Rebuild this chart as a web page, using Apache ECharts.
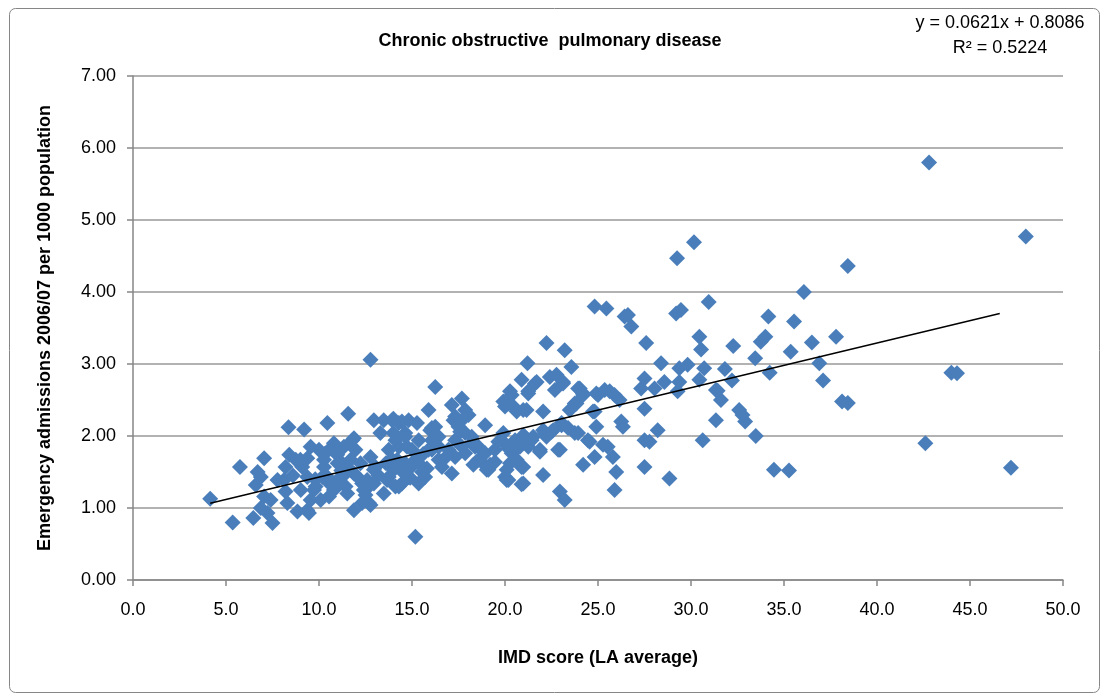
<!DOCTYPE html>
<html>
<head>
<meta charset="utf-8">
<script src="https://cdn.jsdelivr.net/npm/echarts@6/dist/echarts.min.js"></script>
<style>
html,body{margin:0;padding:0;background:#fff;}
#chart{width:1100px;height:693px;}
</style>
</head>
<body>
<div id="chart"></div>
<script>
// ---- Data ----
const chartTitle = "Chronic obstructive  pulmonary disease";
const xAxisTitle = "IMD score (LA average)";
const yAxisTitle = "Emergency admissions 2006/07 per 1000 population";
const equationLines = ["y = 0.0621x + 0.8086", "R\u00b2 = 0.5224"];
const trendSlope = 0.0621;
const trendIntercept = 0.8086;
const trendRange = [4.15, 46.6];

const imd = [
4.15,5.36,5.75,6.47,7.05,6.7,6.6,6.87,7.5,7.23,6.87,7.05,7.4,7.77,8.36,9.2,10.45,11.57,12.77,8.4,
8.2,8.12,8.2,8.3,8.84,9.37,8.75,9.1,9.37,9.55,10.0,9.55,9.82,10.27,10.18,10.54,10.71,10.98,11.25,11.43,
11.07,11.43,11.79,11.96,11.88,12.32,12.77,12.68,12.32,12.77,13.04,12.95,13.48,13.3,13.93,14.11,13.75,14.02,13.75,14.11,
13.48,14.46,14.82,15.27,14.64,14.73,15.18,15.54,15.36,15.89,16.25,15.98,16.07,15.18,
14.0,14.46,14.0,11.88,10.8,11.34,9.0,10.27,11.0,11.7,12.23,9.37,10.45,11.16,11.88,12.59,12.95,13.66,14.02,14.2,
9.02,9.73,10.09,10.8,11.52,12.41,12.68,12.95,9.46,
17.14,17.68,17.86,18.93,17.23,20.0,14.29,15.36,14.64,16.07,16.43,17.59,18.21,18.39,14.29,15.0,15.89,16.96,17.32,17.86,
18.93,19.46,19.82,14.64,15.36,16.43,16.61,18.3,18.57,19.2,19.46,14.82,15.71,17.14,19.02,14.29,20.0,
17.32,17.68,18.04,17.5,17.86,16.25,16.07,16.43,17.32,17.68,18.21,18.57,18.75,19.11,19.64,20.18,20.09,20.18,20.36,20.63,
20.89,20.98,20.54,21.07,21.43,21.25,20.18,20.36,20.63,20.89,21.21,21.25,21.61,21.16,22.05,21.88,22.05,22.14,22.5,22.41,
22.77,22.68,22.23,23.21,23.57,23.12,22.95,22.95,23.21,23.04,23.39,23.75,23.48,23.75,23.93,24.2,24.46,24.2,24.82,25.27,
24.91,24.82,25.0,25.36,25.63,25.89,26.16,24.82,25.45,25.8,25.98,25.89,26.25,26.34,26.43,26.61,26.79,27.59,27.5,27.32,
27.5,27.5,27.77,27.5,28.21,28.04,28.39,28.57,28.84,29.2,
21.7,23.12,20.27,21.25,24.02,24.2,24.91,19.91,20.45,20.98,23.84,24.73,19.91,20.98,22.05,23.04,23.93,20.45,21.52,22.23,
22.59,24.55,20.27,20.8,21.88,22.86,20.27,20.98,20.09,20.89,
29.46,30.95,30.45,30.54,29.37,29.82,30.71,29.37,29.28,30.45,30.63,25.52,31.34,29.25,30.16,
36.07,34.16,35.54,34.0,33.75,32.27,36.5,35.36,33.45,36.9,31.82,32.2,34.23,37.1,31.43,31.61,31.34,32.59,32.77,32.91,
33.48,34.46,35.27,
38.43,37.8,38.12,38.43,42.6,42.8,44.0,44.3,47.2,48.0,
8.6,9.8,10.6,11.2,12.0,12.5,13.2,13.9,14.5,15.0,15.6,16.8,10.3,11.6,13.6,14.9,15.8
];
const admissions = [
1.13,0.80,1.57,0.86,1.69,1.50,1.32,1.43,0.79,0.93,1.00,1.16,1.11,1.39,2.12,2.09,2.18,2.31,3.06,1.74,
1.57,1.39,1.23,1.07,0.95,0.97,1.67,1.57,1.69,1.85,1.81,1.11,1.30,1.57,1.43,1.16,1.85,1.74,1.62,1.48,
1.39,1.30,1.94,1.81,0.97,1.07,1.04,1.30,1.34,1.71,1.57,2.22,2.22,2.04,2.22,1.94,1.81,1.57,1.43,1.30,
1.20,1.34,2.22,2.18,2.04,1.85,1.67,1.50,1.34,2.36,2.68,2.08,1.81,0.60,
2.24,2.20,2.04,1.97,1.90,1.85,1.67,1.67,1.62,1.67,1.62,1.43,1.43,1.43,1.48,1.39,1.53,1.39,1.53,1.67,
1.25,1.25,1.11,1.25,1.20,1.25,1.07,1.34,0.93,
2.43,2.52,2.36,2.15,2.22,2.41,2.18,1.94,1.99,2.11,1.99,2.06,1.99,1.85,1.85,1.81,1.81,1.81,1.71,1.76,
1.76,1.81,1.94,1.62,1.62,1.67,1.57,1.60,1.67,1.60,1.64,1.43,1.43,1.48,1.53,1.30,1.43,
2.27,2.22,2.29,2.13,2.04,2.13,1.94,1.85,1.94,1.85,1.90,1.85,1.64,1.53,1.92,1.83,1.53,1.39,1.76,1.67,
1.57,1.34,1.94,1.99,1.94,1.85,2.45,2.57,2.34,2.78,3.01,2.59,2.73,2.36,2.34,1.81,1.46,2.04,2.06,2.82,
2.85,2.64,3.29,3.19,2.96,2.73,1.81,1.23,1.11,2.18,2.11,2.04,2.36,2.45,2.66,2.59,1.94,1.60,1.71,1.88,
2.13,2.34,2.57,2.64,2.62,2.57,2.50,3.80,3.77,1.71,1.50,1.25,2.20,2.13,3.66,3.68,3.52,3.29,2.80,2.66,
2.38,1.94,1.92,1.57,2.08,2.66,3.01,2.75,1.41,3.70,
2.75,2.75,2.62,2.62,2.66,2.57,2.59,2.48,2.41,2.36,2.45,2.34,2.04,2.01,2.08,2.15,2.04,1.90,1.99,1.99,
2.08,1.92,1.81,1.85,1.78,1.81,1.62,1.57,1.39,1.33,
3.75,3.86,3.38,3.20,2.94,2.99,2.94,2.75,2.62,2.78,1.94,1.85,2.64,4.47,4.69,
4.00,3.66,3.59,3.38,3.31,3.25,3.30,3.17,3.08,3.01,2.93,2.77,2.88,2.77,2.63,2.50,2.22,2.36,2.29,2.20,
2.00,1.53,1.52,
4.36,3.38,2.48,2.46,1.90,5.80,2.88,2.87,1.56,4.77,
1.45,1.40,1.33,1.52,1.45,1.18,1.45,1.68,1.50,1.58,1.75,1.70,1.75,1.55,1.62,1.42,1.55
];
const xTicks = { min: 0, max: 50, interval: 5 };
const yTicks = { min: 0, max: 7, interval: 1 };

// ---- Build ----
const points = imd.map((x, i) => [x, admissions[i]]);
const trend = trendRange.map(x => [x, trendSlope * x + trendIntercept]);

const FONT = "'Liberation Sans', Arial, sans-serif";
const chart = echarts.init(document.getElementById('chart'), null, { renderer: 'canvas' });
chart.setOption({
  animation: false,
  backgroundColor: '#ffffff',
  grid: { left: 133, right: 37, top: 76, bottom: 113, containLabel: false },
  title: {
    text: chartTitle, left: 'center', top: 27,
    textStyle: { fontFamily: FONT, fontSize: 18, fontWeight: 'bold', color: '#000' }
  },
  graphic: [
    { type: 'rect', left: 7, top: 6, shape: { width: 1090, height: 684, r: 6 },
      style: { fill: 'none', stroke: '#868686', lineWidth: 1 }, silent: true, z: -1 },
    { type: 'text', x: 1000, y: 14, style: { text: equationLines[0], textAlign: 'center',
      font: "18px 'Liberation Sans', Arial, sans-serif", fill: '#000' } },
    { type: 'text', x: 1000, y: 39, style: { text: equationLines[1], textAlign: 'center',
      font: "18px 'Liberation Sans', Arial, sans-serif", fill: '#000' } }
  ],
  xAxis: {
    type: 'value', min: xTicks.min, max: xTicks.max, interval: xTicks.interval,
    name: xAxisTitle, nameLocation: 'middle', nameGap: 69,
    nameTextStyle: { fontFamily: FONT, fontSize: 18, fontWeight: 'bold', color: '#000' },
    axisLine: { show: true, lineStyle: { color: '#868686', width: 1.5 } },
    axisTick: { show: true, inside: false, length: 6, lineStyle: { color: '#868686', width: 1.5 } },
    axisLabel: { formatter: v => v.toFixed(1), margin: 21, fontFamily: FONT, fontSize: 18, color: '#000' },
    splitLine: { show: false }
  },
  yAxis: {
    type: 'value', min: yTicks.min, max: yTicks.max, interval: yTicks.interval,
    name: yAxisTitle, nameLocation: 'middle', nameGap: 79,
    nameTextStyle: { fontFamily: FONT, fontSize: 18, fontWeight: 'bold', color: '#000' },
    axisLine: { show: true, lineStyle: { color: '#868686', width: 1.5 } },
    axisTick: { show: true, inside: false, length: 6, lineStyle: { color: '#868686', width: 1.5 } },
    axisLabel: { formatter: v => v.toFixed(2), margin: 17, fontFamily: FONT, fontSize: 18, color: '#000' },
    splitLine: { show: true, lineStyle: { color: '#999999', width: 1.5 } }
  },
  series: [
    { type: 'scatter', data: points, symbol: 'diamond', symbolSize: 16,
      itemStyle: { color: '#4a7ebb', opacity: 1 }, z: 2 },
    { type: 'line', data: trend, symbol: 'none', lineStyle: { color: '#000', width: 1.5 },
      silent: true, z: 3 }
  ]
});
</script>
</body>
</html>
